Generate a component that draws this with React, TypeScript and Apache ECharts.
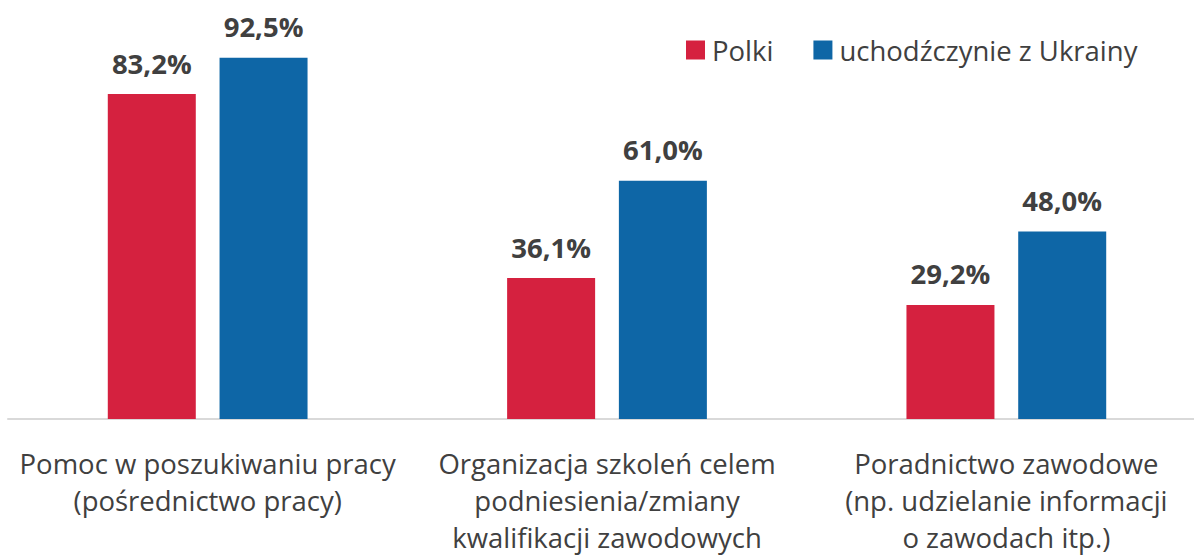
import React, { useEffect, useRef } from "react";
import * as echarts from "echarts";

const categories = [
  "Pomoc w poszukiwaniu pracy\n(pośrednictwo pracy)",
  "Organizacja szkoleń celem\npodniesienia/zmiany\nkwalifikacji zawodowych",
  "Poradnictwo zawodowe\n(np. udzielanie informacji\no zawodach itp.)",
];
const seriesNames = ["Polki", "uchodźczynie z Ukrainy"];
const polki = [83.2, 36.1, 29.2];
const ukraina = [92.5, 61.0, 48.0];

const FONT = "'Open Sans', sans-serif";
const TXT = "#404040";

export default function App() {
  const ref = useRef<HTMLDivElement>(null);
  useEffect(() => {
    const chart = echarts.init(ref.current!, null, { renderer: "svg" });
    const label = {
      show: true,
      position: "top",
      distance: 17,
      color: TXT,
      fontFamily: FONT,
      fontWeight: "bold",
      fontSize: 27.5,
      formatter: (p: any) => p.value.toFixed(1).replace(".", ",") + "%",
    };
    chart.setOption({
      animation: false,
      textStyle: { fontFamily: FONT },
      legend: {
        left: 681,
        top: 31,
        itemWidth: 19,
        itemHeight: 19,
        itemGap: 40,
        icon: "rect",
        textStyle: { color: TXT, fontSize: 27.5, fontFamily: FONT, padding: [0, 0, 0, 2] },
        data: seriesNames,
      },
      grid: { left: 8, right: 0, top: 28.5, bottom: 556 - 422, containLabel: false },
      xAxis: {
        type: "category",
        data: categories,
        axisLine: { lineStyle: { color: "#d9d9d9", width: 2 } },
        axisTick: { show: false },
        axisLabel: {
          color: TXT,
          fontSize: 27.5,
          fontFamily: FONT,
          lineHeight: 37,
          margin: 26,
          interval: 0,
        },
      },
      yAxis: {
        type: "value",
        min: 0,
        max: 100,
        show: false,
        splitLine: { show: false },
      },
      series: [
        {
          name: seriesNames[0],
          type: "bar",
          data: polki,
          barWidth: 88,
          barGap: "27%",
          itemStyle: { color: "#d5213f" },
          label,
        },
        {
          name: seriesNames[1],
          type: "bar",
          data: ukraina,
          barWidth: 88,
          itemStyle: { color: "#0e66a6" },
          label,
        },
      ],
    });
    return () => chart.dispose();
  }, []);
  return (
    <div
      style={{ position: "absolute", left: 0, top: 0, width: 1194, height: 556, background: "#fff", overflow: "hidden" }}
    >
      <div ref={ref} style={{ width: 1206, height: 556 }} />
    </div>
  );
}
